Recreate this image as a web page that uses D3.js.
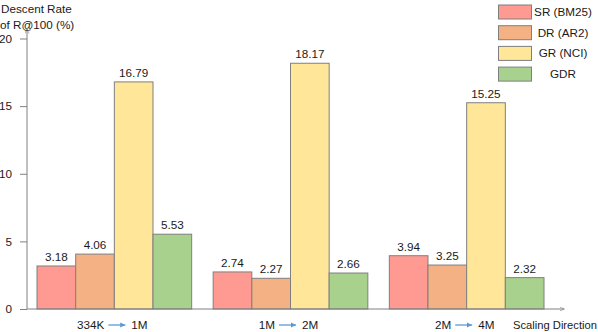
<!DOCTYPE html>
<html>
<head>
<meta charset="utf-8">
<script src="https://cdn.jsdelivr.net/npm/d3@7"></script>
<style>
  body { margin: 0; background: #fff; }
  text { font-family: "Liberation Sans", Arial, sans-serif; font-size: 11.7px; fill: #1a1a1a; }
</style>
</head>
<body>
<div id="chart"></div>
<script>
// chart data
var groups = ["334K|1M", "1M|2M", "2M|4M"];
var seriesNames = ["SR (BM25)", "DR (AR2)", "GR (NCI)", "GDR"];
var seriesColors = ["#ff9a92", "#f4b183", "#ffe699", "#a9d18e"];
var srValues = [3.18, 2.74, 3.94];
var drValues = [4.06, 2.27, 3.25];
var grValues = [16.79, 18.17, 15.25];
var gdrValues = [5.53, 2.66, 2.32];
var yTicks = [0, 5, 10, 15, 20];

var allValues = [srValues, drValues, grValues, gdrValues];

var W = 598, H = 332;
var svg = d3.select("#chart")
    .append("svg")
    .attr("width", W)
    .attr("height", H);

var axisX = 27, baseY = 309;

var y = d3.scaleLinear()
    .domain([0, 20])
    .range([baseY, 38.5]);

var x0 = d3.scaleBand()
    .domain(groups)
    .range([37, 544])
    .paddingInner(0.122)
    .paddingOuter(0);

var x1 = d3.scaleBand()
    .domain(seriesNames)
    .range([0, x0.bandwidth()])
    .padding(0);

var axisColor = "#808080";

// bars
groups.forEach(function (g, gi) {
    var grp = svg.append("g")
        .attr("transform", "translate(" + x0(g) + ",0)");
    seriesNames.forEach(function (s, si) {
        var v = allValues[si][gi];
        grp.append("rect")
            .attr("x", x1(s))
            .attr("y", y(v))
            .attr("width", x1.bandwidth())
            .attr("height", baseY - y(v))
            .attr("fill", seriesColors[si])
            .attr("stroke", "#7f7f7f")
            .attr("stroke-width", 1);
        grp.append("text")
            .attr("x", x1(s) + x1.bandwidth() / 2)
            .attr("y", y(v) - 5)
            .attr("text-anchor", "middle")
            .text(v.toFixed(2));
    });
});

// y axis
var yAxis = svg.append("g")
    .attr("transform", "translate(" + axisX + ",0)")
    .call(d3.axisLeft(y).tickValues(yTicks).tickSize(7).tickPadding(8));
yAxis.select(".domain").remove();
yAxis.selectAll("line").attr("stroke", axisColor);
yAxis.selectAll("text")
    .style("font-family", "Liberation Sans, Arial, sans-serif")
    .style("font-size", "11.7px")
    .attr("fill", "#1a1a1a");

// axis lines with arrow heads
svg.append("defs").append("marker")
    .attr("id", "ah")
    .attr("viewBox", "0 0 10 10")
    .attr("refX", 9).attr("refY", 5)
    .attr("markerWidth", 5).attr("markerHeight", 5)
    .attr("orient", "auto")
    .append("path")
    .attr("d", "M0,1 L10,5 L0,9")
    .attr("fill", "none")
    .attr("stroke", axisColor)
    .attr("stroke-width", 1.2);

svg.append("line")
    .attr("x1", axisX).attr("x2", axisX)
    .attr("y1", baseY).attr("y2", 29)
    .attr("stroke", axisColor)
    .attr("marker-end", "url(#ah)");

svg.append("line")
    .attr("x1", axisX).attr("x2", 564)
    .attr("y1", baseY).attr("y2", baseY)
    .attr("stroke", axisColor)
    .attr("marker-end", "url(#ah)");

// blue arrow marker for category labels
svg.select("defs").append("marker")
    .attr("id", "bh")
    .attr("viewBox", "0 0 10 10")
    .attr("refX", 10).attr("refY", 5)
    .attr("markerWidth", 4).attr("markerHeight", 4)
    .attr("orient", "auto")
    .append("path")
    .attr("d", "M0,0 L10,5 L0,10 Z")
    .attr("fill", "#5b9bd5");

// category labels "a -> b"
groups.forEach(function (g) {
    var parts = g.split("|");
    var lab = svg.append("g");
    var left = lab.append("text").attr("y", 329).text(parts[0]);
    var right = lab.append("text").attr("y", 329).text(parts[1]);
    var lw = left.node().getComputedTextLength();
    var rw = right.node().getComputedTextLength();
    var gap1 = 4, arrowW = 17, gap2 = 6;
    var total = lw + gap1 + arrowW + gap2 + rw;
    var start = x0(g) + x0.bandwidth() / 2 - total / 2 - 2;
    left.attr("x", start);
    lab.append("line")
        .attr("x1", start + lw + gap1)
        .attr("x2", start + lw + gap1 + arrowW)
        .attr("y1", 325).attr("y2", 325)
        .attr("stroke", "#5b9bd5")
        .attr("stroke-width", 1.3)
        .attr("marker-end", "url(#bh)");
    right.attr("x", start + lw + gap1 + arrowW + gap2);
});

svg.append("text")
    .attr("x", 513)
    .attr("y", 329)
    .style("font-size", "11.2px")
    .text("Scaling Direction");

// y title
svg.append("text").attr("x", 1).attr("y", 13).text("Descent Rate");
svg.append("text").attr("x", 0).attr("y", 29).text("of R@100 (%)");

// legend
var legend = svg.append("g");
seriesNames.forEach(function (s, i) {
    var ly = 5 + i * 20.7;
    legend.append("rect")
        .attr("x", 498.5)
        .attr("y", ly)
        .attr("width", 33)
        .attr("height", 14)
        .attr("fill", seriesColors[i])
        .attr("stroke", "#7f7f7f");
    legend.append("text")
        .attr("x", 563)
        .attr("y", ly + 11)
        .attr("text-anchor", "middle")
        .text(s);
});
</script>
</body>
</html>
